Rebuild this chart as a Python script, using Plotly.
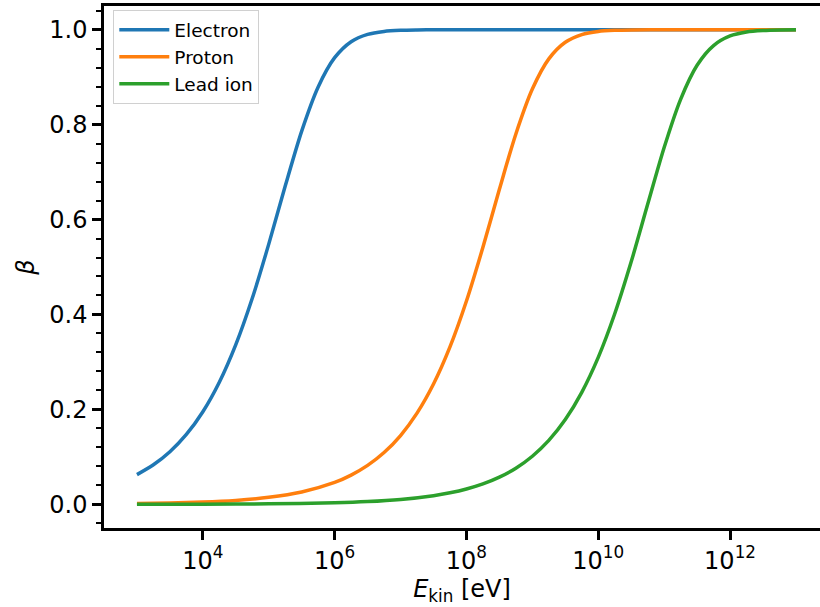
import plotly.graph_objects as go

# Kinetic energy grid points [eV] and read-off beta values
e_electron = [1e3, 1.778e3, 3.162e3, 5.623e3, 1e4, 1.778e4, 3.162e4, 5.623e4,
              1e5, 1.778e5, 3.162e5, 5.623e5, 1e6, 1.778e6, 3.162e6, 5.623e6,
              1e7, 1.778e7, 3.162e7, 1e8, 1e9, 1e10, 1e11, 1e12, 1e13]
beta_electron = [0.0625, 0.0832, 0.1107, 0.1471, 0.1950, 0.2572, 0.3364, 0.4341,
                 0.5482, 0.6706, 0.7864, 0.8794, 0.9411, 0.9748, 0.9903, 0.9965,
                 0.9988, 0.9996, 0.9999, 1.0, 1.0, 1.0, 1.0, 1.0, 1.0]

e_proton = [1e3, 3.162e3, 1e4, 3.162e4, 1e5, 3.162e5, 1e6, 1.778e6, 3.162e6, 5.623e6,
            1e7, 1.778e7, 3.162e7, 5.623e7, 1e8, 1.778e8, 3.162e8, 5.623e8,
            1e9, 1.778e9, 3.162e9, 5.623e9, 1e10, 1.778e10, 3.162e10, 1e11, 1e12, 1e13]
beta_proton = [0.0015, 0.0026, 0.0046, 0.0082, 0.0146, 0.0260, 0.0461, 0.0615, 0.0819, 0.1090,
               0.1449, 0.1920, 0.2533, 0.3315, 0.4282, 0.5416, 0.6638, 0.7804,
               0.8750, 0.9385, 0.9735, 0.9897, 0.9963, 0.9987, 0.9996, 1.0, 1.0, 1.0]

e_lead = [1e3, 1e4, 1e5, 1e6, 3.162e6, 1e7, 3.162e7, 5.623e7,
          1e8, 1.778e8, 3.162e8, 5.623e8, 1e9, 1.778e9, 3.162e9, 5.623e9,
          1e10, 1.778e10, 3.162e10, 5.623e10, 1e11, 1.778e11, 3.162e11, 5.623e11,
          1e12, 1.778e12, 3.162e12, 5.623e12, 1e13]
beta_lead = [0.0001, 0.0003, 0.0010, 0.0032, 0.0057, 0.0102, 0.0181, 0.0241,
             0.0321, 0.0428, 0.0571, 0.0760, 0.1012, 0.1346, 0.1785, 0.2359,
             0.3095, 0.4014, 0.5109, 0.6320, 0.7517, 0.8533, 0.9251, 0.9666,
             0.9868, 0.9952, 0.9983, 0.9995, 0.9998]

x_tickvals = [1e4, 1e6, 1e8, 1e10, 1e12]
x_ticktext = ["10<sup>4</sup>", "10<sup>6</sup>", "10<sup>8</sup>", "10<sup>10</sup>", "10<sup>12</sup>"]
y_tickvals = [0.0, 0.2, 0.4, 0.6, 0.8, 1.0]
y_ticktext = ["0.0", "0.2", "0.4", "0.6", "0.8", "1.0"]

series = [
    ("Electron", e_electron, beta_electron, "#1f77b4"),
    ("Proton", e_proton, beta_proton, "#ff7f0e"),
    ("Lead ion", e_lead, beta_lead, "#2ca02c"),
]

fig = go.Figure()
for name, xs, ys, col in series:
    fig.add_trace(go.Scatter(x=xs, y=ys, mode="lines", name=name,
                             line=dict(color=col, width=3.5, shape="spline", smoothing=0.8)))

font = "DejaVu Sans, sans-serif"
fig.update_layout(
    width=820, height=607,
    margin=dict(l=104, r=0, t=6, b=79),
    paper_bgcolor="white", plot_bgcolor="white",
    font=dict(family=font, size=24, color="black"),
    showlegend=True,
    legend=dict(x=0.013, y=0.992, xanchor="left", yanchor="top",
                bgcolor="rgba(255,255,255,0.8)", bordercolor="#d0d0d0", borderwidth=1,
                font=dict(size=18.5, family=font), tracegroupgap=0, itemwidth=50),
    xaxis=dict(type="log", range=[2.5, 13.365],
               tickvals=x_tickvals, ticktext=x_ticktext,
               ticks="outside", ticklen=9, tickwidth=2.5, tickcolor="black",
               showline=True, linewidth=2.5, linecolor="black", mirror=True,
               showgrid=False, zeroline=False,
               tickfont=dict(size=24, family=font),
               title=dict(text="<i>E</i><sub>kin</sub> [eV]", font=dict(size=24, family=font), standoff=2)),
    yaxis=dict(range=[-0.05, 1.05],
               tickvals=y_tickvals, ticktext=y_ticktext,
               ticks="outside", ticklen=9, tickwidth=2.5, tickcolor="black",
               minor=dict(dtick=0.04, tick0=0, ticks="outside", ticklen=5, tickwidth=1.5, tickcolor="black"),
               showline=True, linewidth=2.5, linecolor="black", mirror=False,
               showgrid=False, zeroline=False,
               tickfont=dict(size=24, family=font),
               title=dict(text="<i>β</i>", font=dict(size=24, family=font), standoff=8)),
)

fig.write_html("out.html")
